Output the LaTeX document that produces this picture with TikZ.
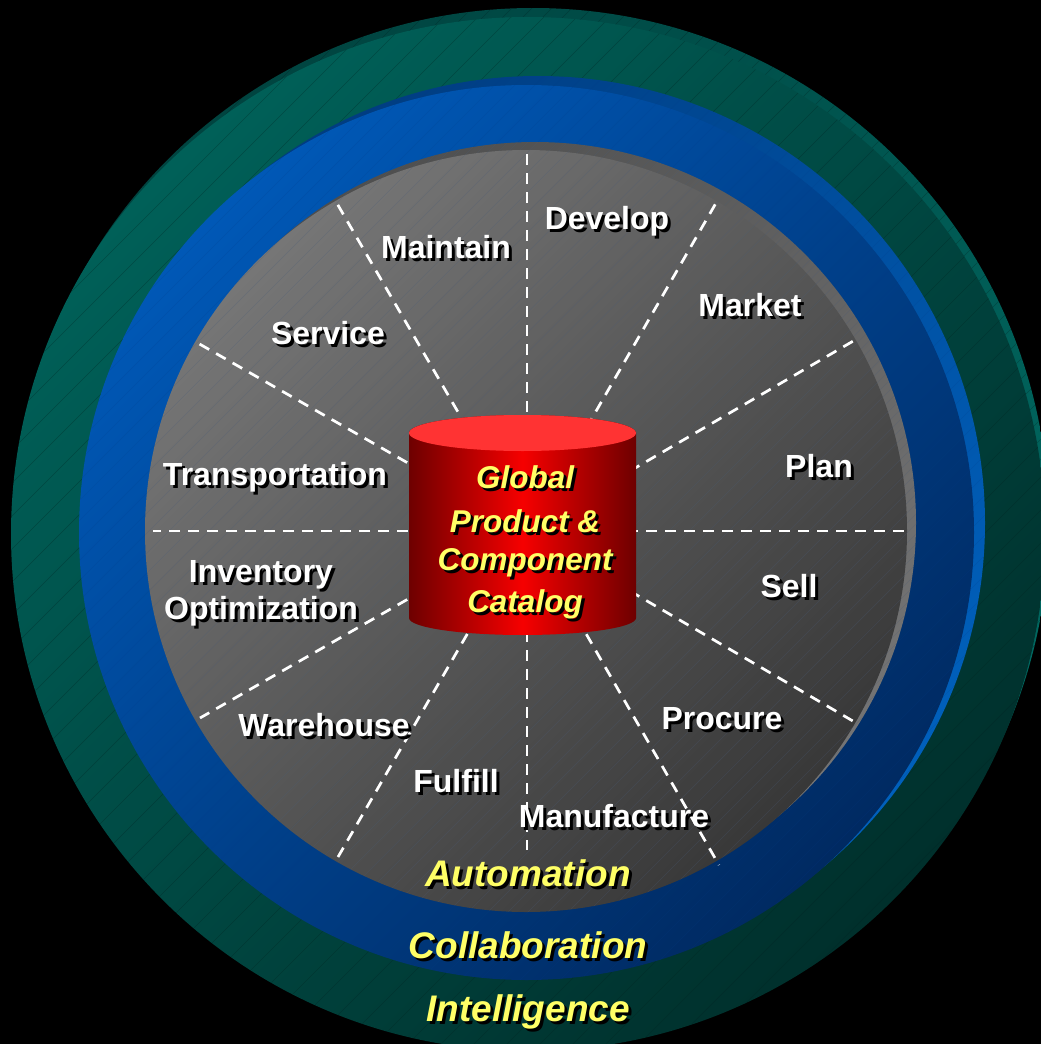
\documentclass[tikz,border=0pt]{standalone}
\usepackage{fontspec}
\setmainfont{Liberation Sans}
\definecolor{lab}{HTML}{FFFF66}
\definecolor{cylEdge}{HTML}{6E0000}
\definecolor{cylMid}{HTML}{F60000}
\definecolor{cylTop}{HTML}{FF3333}
\definecolor{tealBackA}{HTML}{004440}
\definecolor{tealBackB}{HTML}{006A62}
\definecolor{tealA}{HTML}{006058}
\definecolor{tealB}{HTML}{00302C}
\definecolor{blueBackA}{HTML}{003C80}
\definecolor{blueBackB}{HTML}{0060BC}
\definecolor{blueA}{HTML}{0058B6}
\definecolor{blueB}{HTML}{002A62}
\definecolor{greyBackA}{HTML}{4E4E4E}
\definecolor{greyBackB}{HTML}{747474}
\definecolor{greyA}{HTML}{767676}
\definecolor{greyB}{HTML}{383838}
\definecolor{hatchGrey}{HTML}{4A5C78}
\definecolor{hatchDark}{HTML}{002422}
\definecolor{hatchBlue}{HTML}{003C88}
\newcommand{\discfill}[8]{%
  % cx, cy, r, start colour, end colour, hatch colour, hatch step, hatch opacity
  \begin{scope}
    \clip (#1,#2) circle[radius=#3pt];
    \shade[top color=#4,bottom color=#5,shading angle=45] (#1,#2) circle[radius=#3pt];
    \foreach \k in {0,#7,...,2200}
      \draw[line width=.4pt,draw=#6,opacity=#8] (\k,0) -- (\k-1100,1100);
  \end{scope}}
\newcommand{\shlabel}[5]{%
  % name, style, x, y, text
  \node[#2,text=black] at (#3+3,#4+3) {#5};
  \node[#2] (#1) at (#3,#4) {#5};}
\tikzset{
  x=1pt,y=-1pt,
  whitelab/.style={anchor=base,inner sep=0pt,text=white,font=\fontsize{32}{38}\selectfont\bfseries,align=center},
  ringlab/.style={anchor=base,inner sep=0pt,text=lab,font=\fontsize{37}{40}\selectfont\bfseries\itshape},
  cyllab/.style={anchor=base,inner sep=0pt,text=lab,font=\fontsize{31.5}{36}\selectfont\bfseries\itshape},
  spoke/.style={draw=white,line width=2.7pt,dash pattern=on 11pt off 8pt,dash phase=14pt},
}
\begin{document}
\begin{tikzpicture}
\useasboundingbox (0,0) rectangle (1041,1044);
\fill[black] (0,0) rectangle (1041,1044);
\clip (0,0) rectangle (1041,1044);
% teal ring
\discfill{533}{524}{516}{tealBackA}{tealBackB}{hatchDark}{20}{.35}
\discfill{528}{534}{517}{tealA}{tealB}{hatchDark}{33}{.35}
% blue ring
\discfill{538}{523}{447}{blueBackA}{blueBackB}{hatchBlue}{20}{.2}
\discfill{526.5}{532.5}{447.5}{blueA}{blueB}{hatchBlue}{20}{.2}
% grey disc
\discfill{535}{523}{381}{greyBackA}{greyBackB}{hatchGrey}{10}{.3}
\discfill{526}{531}{381}{greyA}{greyB}{hatchGrey}{20}{.3}
% spokes
\coordinate (hub) at (527,531);
\coordinate (e0) at (527,150);
\coordinate (e1) at (716,203);
\coordinate (e2) at (855,340);
\coordinate (e3) at (905,531);
\coordinate (e4) at (858,724);
\coordinate (e5) at (719,865);
\coordinate (e6) at (527,850);
\coordinate (e7) at (338,857);
\coordinate (e8) at (200,718);
\coordinate (e9) at (153,531);
\coordinate (e10) at (196,342);
\coordinate (e11) at (335,200);
\foreach \i in {0,...,11} \draw[spoke] (hub) -- (e\i);
% cylinder
\coordinate (cyl) at (522.5,525);
\shade[left color=cylEdge,right color=cylEdge,middle color=cylMid]
  (409,433) -- (409,618) arc[start angle=180,end angle=360,x radius=113.5pt,y radius=17pt]
  -- (636,433) arc[start angle=0,end angle=180,x radius=113.5pt,y radius=18pt] -- cycle;
\fill[cylTop] (522.5,433) ellipse[x radius=113.5pt,y radius=18pt];
% wheel labels
\shlabel{develop}{whitelab}{607}{229}{Develop}
\shlabel{maintain}{whitelab}{446}{258}{Maintain}
\shlabel{market}{whitelab}{750}{316}{Market}
\shlabel{service}{whitelab}{328}{344}{Service}
\shlabel{plan}{whitelab}{819}{477}{Plan}
\shlabel{transportation}{whitelab}{275}{485}{Transportation}
\shlabel{sell}{whitelab}{789}{597}{Sell}
\shlabel{inventory}{whitelab}{261}{582}{Inventory}
\shlabel{optimization}{whitelab}{261}{619}{Optimization}
\shlabel{warehouse}{whitelab}{324}{736}{Warehouse}
\shlabel{procure}{whitelab}{722}{729}{Procure}
\shlabel{fulfill}{whitelab}{456}{792}{Fulfill}
\shlabel{manufacture}{whitelab}{614}{827}{Manufacture}
% ring labels
\shlabel{automation}{ringlab}{528}{886}{Automation}
\shlabel{collaboration}{ringlab}{528}{958}{Collaboration}
\shlabel{intelligence}{ringlab}{528}{1021}{Intelligence}
% cylinder labels
\shlabel{global}{cyllab}{525}{488}{Global}
\shlabel{product}{cyllab}{525}{532}{Product \&}
\shlabel{component}{cyllab}{525}{570}{Component}
\shlabel{catalog}{cyllab}{525}{612}{Catalog}
\end{tikzpicture}
\end{document}
